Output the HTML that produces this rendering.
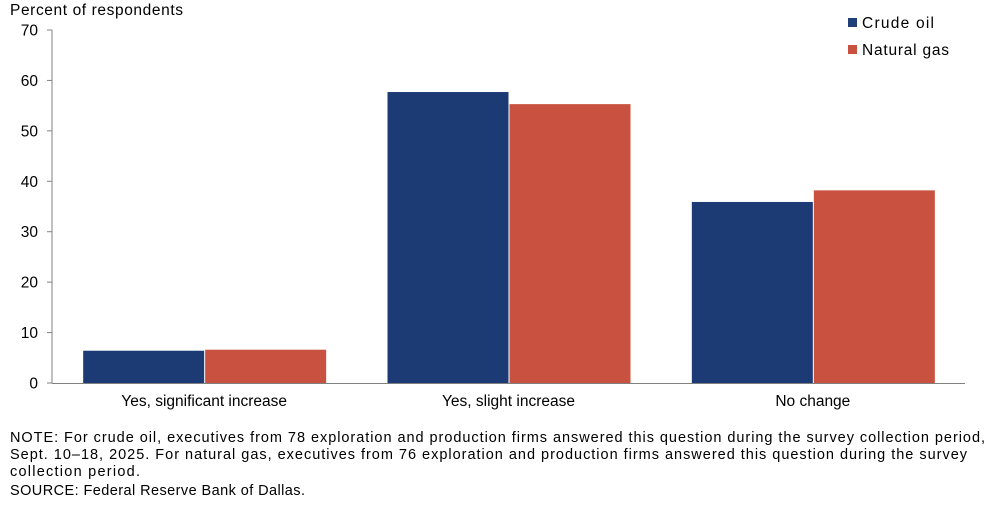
<!DOCTYPE html>
<html><head><meta charset="utf-8"><style>
body{margin:0;background:#fff;}
svg text{font-family:"Liberation Sans",Arial,sans-serif;fill:#000;}
</style></head><body>
<svg width="997" height="504" viewBox="0 0 997 504" xmlns="http://www.w3.org/2000/svg">
<text x="10" y="15" font-size="15.5" textLength="173" lengthAdjust="spacing">Percent of respondents</text>
<g id="axes"></g>
<g id="bars"></g>
<g>
<rect x="848" y="18" width="9" height="9" fill="#1e3f7a"/>
<text x="862" y="28" font-size="15.5" textLength="72" lengthAdjust="spacing">Crude oil</text>
<rect x="848" y="45" width="9" height="9" fill="#c9513f"/>
<text x="862" y="55" font-size="15.5" textLength="87" lengthAdjust="spacing">Natural gas</text>
</g>
<g font-size="14.5">
<text x="10" y="442" textLength="975" lengthAdjust="spacing">NOTE: For crude oil, executives from 78 exploration and production firms answered this question during the survey collection period,</text>
<text x="10" y="459" textLength="957" lengthAdjust="spacing">Sept. 10–18, 2025. For natural gas, executives from 76 exploration and production firms answered this question during the survey</text>
<text x="10" y="476" textLength="130" lengthAdjust="spacing">collection period.</text>
<text x="10" y="495" textLength="295" lengthAdjust="spacing">SOURCE: Federal Reserve Bank of Dallas.</text>
</g>
</svg>
<script>
const categories=["Yes, significant increase","Yes, slight increase","No change"];
const crude=[6.4,57.7,35.9];
const gas=[6.6,55.3,38.2];
const ticks=[0,10,20,30,40,50,60,70];
const NS="http://www.w3.org/2000/svg";
const x0=52,x1=965,y0=383,yTop=30,yMax=70;
const yS=v=>y0-(y0-yTop)*v/yMax;
const band=(x1-x0)/categories.length;
const bw=121;
function mk(t,a,p){const e=document.createElementNS(NS,t);for(const k in a)e.setAttribute(k,a[k]);p.appendChild(e);return e;}
const ax=document.getElementById('axes'),bg=document.getElementById('bars');
const yl=mk('line',{x1:x0,y1:yTop,x2:x0,y2:y0,stroke:'#808080'},ax);


const xl=mk('line',{x1:x0,y1:y0+0.5,x2:x1,y2:y0+0.5,stroke:'#808080'},ax);


ticks.forEach(t=>{
 mk('line',{x1:x0-5,y1:yS(t),x2:x0,y2:yS(t),stroke:'#808080'},ax);
 const tx=mk('text',{x:38,y:yS(t)+5.5,'font-size':15.5,'text-anchor':'end'},ax);tx.textContent=t;
 
 
});
categories.forEach((c,i)=>{
 const cx=x0+band*(i+0.5);
 const b1=mk('rect',{x:cx-bw,y:yS(crude[i]),width:bw,height:y0-yS(crude[i]),fill:'#1c3b74'},bg);
 
 
 const b2=mk('rect',{x:cx+1,y:yS(gas[i]),width:bw,height:y0-yS(gas[i]),fill:'#c9513f'},bg);
 
 
 const t=mk('text',{x:cx,y:406,'font-size':15.5,'text-anchor':'middle'},ax);t.textContent=c;
 
 
});
</script>
</body></html>
